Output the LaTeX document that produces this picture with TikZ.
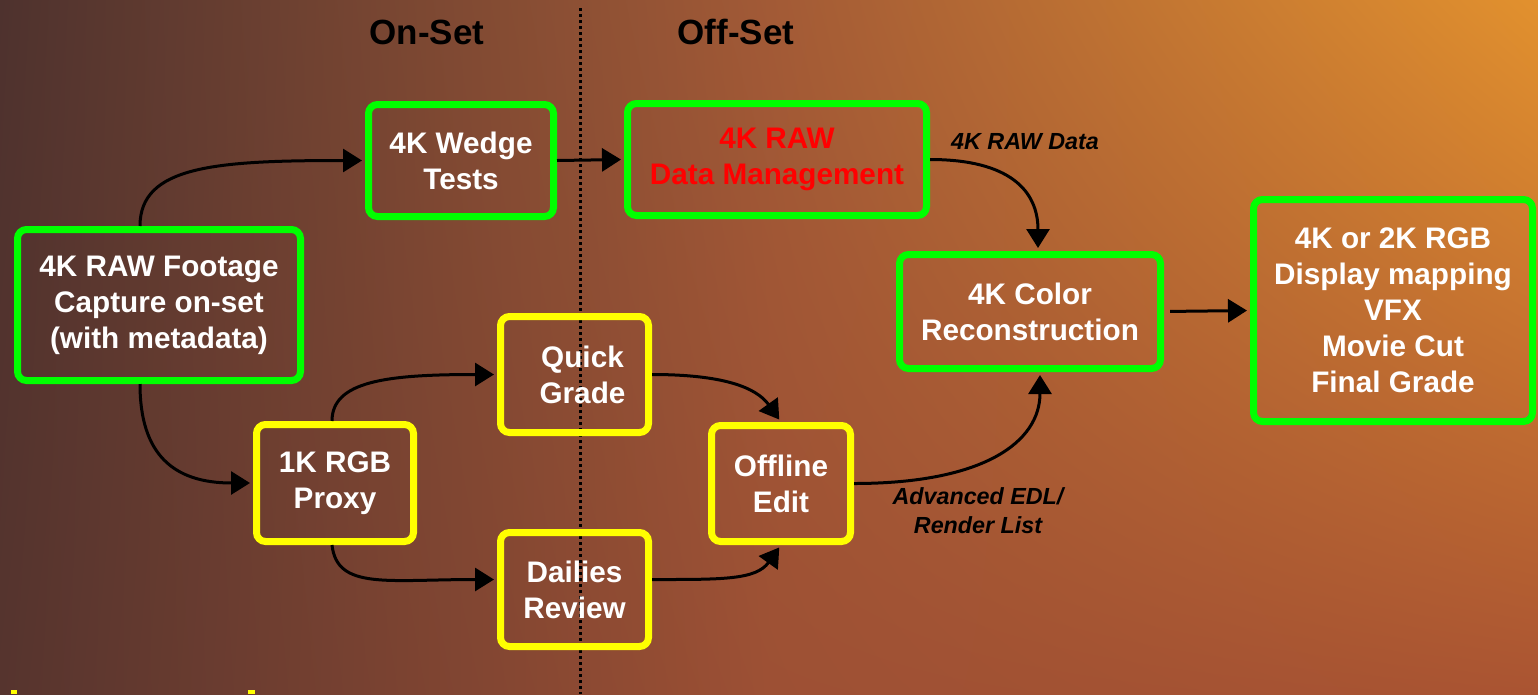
\documentclass[tikz,border=0pt]{standalone}
\usepackage{fontspec}
\setmainfont{Liberation Sans}
\usetikzlibrary{arrows.meta,calc,shadings}
\definecolor{green1}{RGB}{0,255,0}
\definecolor{yellow1}{RGB}{255,255,0}
\definecolor{bgA}{RGB}{78,50,46}
\definecolor{bgB}{RGB}{162,90,54}
\definecolor{bgC}{RGB}{226,145,46}
\definecolor{bgD}{RGB}{86,52,46}
\definecolor{bgE}{RGB}{157,80,52}
\definecolor{bgF}{RGB}{170,84,50}
\begin{document}
\begin{tikzpicture}[x=1pt,y=-1pt,
  gbox/.style={draw=green1, line width=7pt, rounded corners=9pt, inner sep=0pt, align=center, text=white, font=\fontsize{29.7}{36}\selectfont\bfseries},
  ybox/.style={gbox, draw=yellow1},
  arr/.style={line width=3pt, -{Triangle[length=19pt,width=23pt]}, shorten >=3pt},
  lbl/.style={font=\fontsize{23.3}{29}\selectfont\bfseries\itshape, align=center, text=black},
  ttl/.style={font=\fontsize{35}{42}\selectfont\bfseries, text=black}
]
\useasboundingbox (0,0) rectangle (1538,694);
\shade[upper left=bgA, upper right=bgB, lower left=bgD, lower right=bgE] (0,0) rectangle (769.5,694);
\shade[upper left=bgB, upper right=bgC, lower left=bgE, lower right=bgF] (769,0) rectangle (1538,694);

% titles
\node[ttl] (onset) at (427,32) {On-Set};
\node[ttl] (offset) at (736,32) {Off-Set};

% dotted divider
\coordinate (dtop) at (580,8);
\coordinate (dbot) at (580,694);
\draw[line width=3pt, dash pattern=on 3pt off 3pt] (dtop) -- (dbot);

% boxes
\node[gbox, minimum width=283pt, minimum height=151pt] (foot) at (159,305) {\raisebox{-3pt}{4K RAW Footage}\\\raisebox{-3pt}{Capture on-set}\\\raisebox{-3pt}{(with metadata)}};
\node[gbox, minimum width=185pt, minimum height=112pt] (wedge) at (461,160.5) {4K Wedge\\Tests};
\node[gbox, minimum width=299pt, minimum height=112pt, text=red] (raw) at (777,159.5) {\raisebox{-3pt}{4K RAW}\\\raisebox{-3pt}{Data Management}};
\node[gbox, minimum width=261pt, minimum height=114pt] (color) at (1030,311.5) {4K Color\\Reconstruction};
\node[gbox, minimum width=279pt, minimum height=222pt] (final) at (1393,310.5) {4K or 2K RGB\\Display mapping\\VFX\\Movie Cut\\Final Grade};
\node[ybox, minimum width=157pt, minimum height=117pt] (proxy) at (335,483) {1K RGB\\Proxy};
\node[ybox, minimum width=148pt, minimum height=116pt] (quick) at (574.5,374.5) {\hspace*{16pt}Quick\\\hspace*{16pt}Grade};
\node[ybox, minimum width=148pt, minimum height=114pt] (dailies) at (574.5,589.5) {Dailies\\Review};
\node[ybox, minimum width=139pt, minimum height=116pt] (offline) at (781,483.5) {Offline\\Edit};

% labels
\node[lbl] (lraw) at (1025,142) {4K RAW Data};
\node[lbl] (ledl) at (978,511) {Advanced EDL/\\Render List};

% connectors
\draw[arr] ([xshift=-19pt]foot.north) .. controls +(0,-60) and +(-150,0) .. (wedge.west);
\draw[arr] ([xshift=-19pt]foot.south) .. controls +(0,70) and +(-80,0) .. (proxy.west);
\draw[arr] (wedge.east) -- (raw.west);
\draw[arr] (raw.east) .. controls +(80,0) and +(0,-60) .. ([xshift=8pt]color.north);
\draw[arr] (offline.east) .. controls +(130,0) and +(0,70) .. ([xshift=10pt]color.south);
\draw[arr, shorten <=6pt] (color.east) -- (final.west);
\draw[arr] ([xshift=-3pt]proxy.north) .. controls +(0,-40) and +(-110,0) .. (quick.west);
\draw[arr] ([xshift=-3pt]proxy.south) .. controls +(5,45) and +(-110,0) .. ([yshift=10pt]dailies.west);
\draw[arr] (quick.east) .. controls +(70,0) and +(-25,-35) .. (offline.north);
\draw[arr] ([yshift=10pt]dailies.east) .. controls +(70,0) and +(-25,35) .. (offline.south);

% cut-off marks at bottom edge
\fill[yellow1] (11,690) rectangle (17,694);
\fill[yellow1] (248,690) rectangle (255,694);
\end{tikzpicture}
\end{document}
